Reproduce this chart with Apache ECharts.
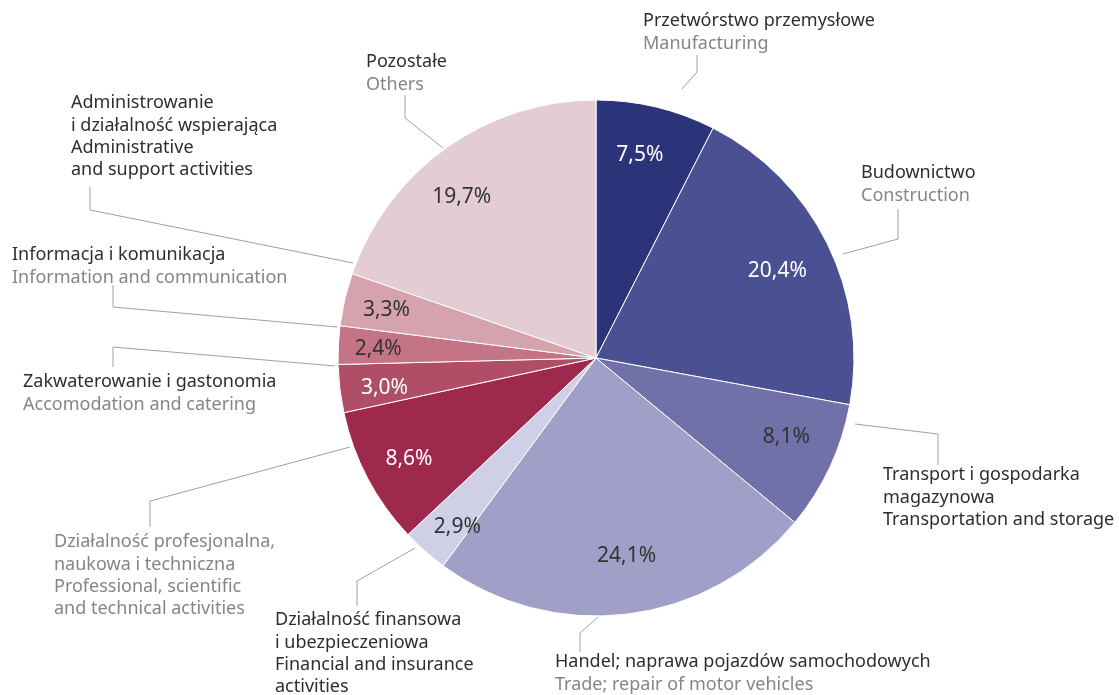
<!DOCTYPE html>
<html><head><meta charset="utf-8">
<script src="https://cdn.jsdelivr.net/npm/echarts@6/dist/echarts.min.js"></script>
<style>html,body{margin:0;padding:0;background:#fff}#c{width:1119px;height:695px}</style>
</head><body><div id="c"></div>
<script>
// ---- data ----
const values = [7.5, 20.4, 8.1, 24.1, 2.9, 8.6, 3.0, 2.4, 3.3, 19.7];
const plLines = [
  ['Przetwórstwo przemysłowe'],
  ['Budownictwo'],
  ['Transport i gospodarka', 'magazynowa'],
  ['Handel; naprawa pojazdów samochodowych'],
  ['Działalność finansowa', 'i ubezpieczeniowa'],
  ['Działalność profesjonalna,', 'naukowa i techniczna'],
  ['Zakwaterowanie i gastonomia'],
  ['Informacja i komunikacja'],
  ['Administrowanie', 'i działalność wspierająca'],
  ['Pozostałe']
];
const enLines = [
  ['Manufacturing'],
  ['Construction'],
  ['Transportation and storage'],
  ['Trade; repair of motor vehicles'],
  ['Financial and insurance', 'activities'],
  ['Professional, scientific', 'and technical activities'],
  ['Accomodation and catering'],
  ['Information and communication'],
  ['Administrative', 'and support activities'],
  ['Others']
];

// ---- styles ----
const sliceColors = ['#2c3479', '#4a5091', '#7171a9', '#a09fc8', '#cfcfe6',
                     '#9e294d', '#b04e68', '#c47484', '#d5a3ae', '#e3ccd4'];
const pctColors = ['#fff', '#fff', '#333', '#333', '#333', '#fff', '#fff', '#333', '#333', '#333'];
const pctOffsets = [[-5, 0], [-6, 6], [1, -9], [5, -9], [0, 13], [-2, 4], [-4, 5], [-9, 2], [-6, 0], [-13, 9]];
const labelStyle = [
  {x: 643, y: 10,  pl: 'd', en: 'g', line: [[682, 89], [697, 72], [697, 55]]},
  {x: 861, y: 162, pl: 'd', en: 'g', line: [[843, 254], [898, 239], [898, 209]]},
  {x: 883, y: 464, pl: 'd', en: 'd', line: [[855, 424], [938, 434], [938, 465]]},
  {x: 555, y: 651, pl: 'd', en: 'g', line: [[598, 617], [580, 633], [580, 652]]},
  {x: 275, y: 609, pl: 'd', en: 'd', line: [[415, 548], [357, 581], [357, 606]]},
  {x: 54,  y: 531, pl: 'g', en: 'g', line: [[350, 447], [150, 501], [150, 527]]},
  {x: 23,  y: 371, pl: 'd', en: 'g', line: [[335, 366], [113, 347], [113, 367]]},
  {x: 12,  y: 244, pl: 'd', en: 'g', line: [[337, 327], [113, 307], [113, 285]]},
  {x: 71,  y: 92,  pl: 'd', en: 'd', line: [[353, 263], [90, 210], [90, 187]]},
  {x: 366, y: 51,  pl: 'd', en: 'g', line: [[443, 148], [405, 118], [405, 95]]}
];
const FONT = '"Noto Sans", sans-serif';
const CENTER = [596, 358];
const R = 258;

const chart = echarts.init(document.getElementById('c'), null, {renderer: 'canvas'});

const sliceData = values.map((v, i) => ({
  value: v,
  name: plLines[i].join(' '),
  itemStyle: {color: sliceColors[i]}
}));
const pctData = values.map((v, i) => ({
  value: v,
  name: 'p' + i,
  itemStyle: {color: 'rgba(0,0,0,0)', borderWidth: 0},
  label: {color: pctColors[i], offset: pctOffsets[i]}
}));

chart.setOption({
  animation: false,
  backgroundColor: '#fff',
  series: [
    {
      type: 'pie',
      center: CENTER,
      radius: R,
      startAngle: 90,
      clockwise: true,
      avoidLabelOverlap: false,
      data: sliceData,
      itemStyle: {borderColor: '#fff', borderWidth: 1},
      emphasis: {disabled: true},
      label: {
        show: true,
        position: 'outside',
        fontFamily: FONT,
        formatter: p => {
          const s = labelStyle[p.dataIndex];
          const a = plLines[p.dataIndex].map(t => '{' + s.pl + '|' + t + '}');
          const b = enLines[p.dataIndex].map(t => '{' + s.en + '|' + t + '}');
          return a.concat(b).join('\n');
        },
        rich: {
          d: {color: '#2e2e2e', fontSize: 18, lineHeight: 22.3, fontFamily: FONT},
          g: {color: '#858585', fontSize: 18, lineHeight: 22.3, fontFamily: FONT}
        }
      },
      labelLine: {show: true, smooth: false, lineStyle: {color: '#a0a0a0', width: 1}},
      labelLayout: p => {
        const s = labelStyle[p.dataIndex];
        return {x: s.x, y: s.y, align: 'left', verticalAlign: 'top', labelLinePoints: s.line};
      }
    },
    {
      type: 'pie',
      center: CENTER,
      radius: [154, R],
      startAngle: 90,
      clockwise: true,
      silent: true,
      avoidLabelOverlap: false,
      data: pctData,
      emphasis: {disabled: true},
      label: {
        show: true,
        position: 'inside',
        fontFamily: FONT,
        fontSize: 21,
        formatter: p => values[p.dataIndex].toFixed(1).replace('.', ',') + '%'
      },
      labelLine: {show: false}
    }
  ]
});
</script>
</body></html>
